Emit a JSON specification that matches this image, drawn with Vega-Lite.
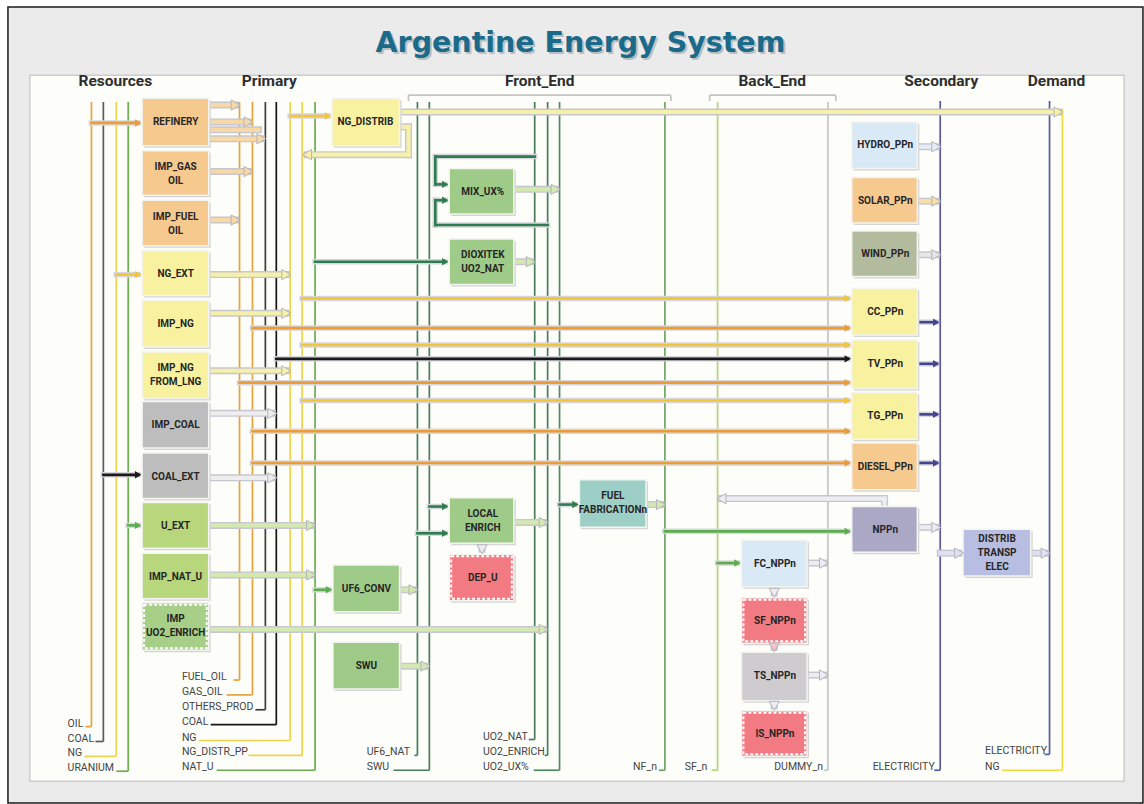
{
"$schema": "https://vega.github.io/schema/vega-lite/v6.json",
"width": 1144, "height": 804,
"autosize": {"type": "fit", "contains": "padding"},
"padding": 0,
"background": "#ffffff",
"config": {"view": {"stroke": null}},
"datasets": {
"frame": [
 {"x": 8, "y": 7, "x2": 1150, "y2": 810, "k": "outer"},
 {"x": 30, "y": 76, "x2": 1131, "y2": 788, "k": "inner"}
],
"lines": [
 {"x": 92, "y": 103, "x2": 92, "y2": 733, "k": "oil"}, {"x": 86, "y": 733, "x2": 92, "y2": 733, "k": "oil"},
 {"x": 104, "y": 103, "x2": 104, "y2": 748, "k": "coalres"}, {"x": 96, "y": 748, "x2": 104, "y2": 748, "k": "coalres"},
 {"x": 117, "y": 103, "x2": 117, "y2": 763, "k": "ng"}, {"x": 85, "y": 763, "x2": 117, "y2": 763, "k": "ng"},
 {"x": 129, "y": 103, "x2": 129, "y2": 778, "k": "uran"}, {"x": 117, "y": 778, "x2": 129, "y2": 778, "k": "uran"},
 {"x": 241, "y": 103, "x2": 241, "y2": 686, "k": "oil"}, {"x": 235, "y": 686, "x2": 241, "y2": 686, "k": "oil"},
 {"x": 254, "y": 103, "x2": 254, "y2": 701, "k": "oil"}, {"x": 228, "y": 701, "x2": 254, "y2": 701, "k": "oil"},
 {"x": 267, "y": 103, "x2": 267, "y2": 716, "k": "others"}, {"x": 257, "y": 716, "x2": 267, "y2": 716, "k": "others"},
 {"x": 278, "y": 103, "x2": 278, "y2": 731, "k": "coal"}, {"x": 212, "y": 731, "x2": 278, "y2": 731, "k": "coal"},
 {"x": 292, "y": 103, "x2": 292, "y2": 747, "k": "ng"}, {"x": 200, "y": 747, "x2": 292, "y2": 747, "k": "ng"},
 {"x": 304, "y": 103, "x2": 304, "y2": 762, "k": "ng"}, {"x": 250, "y": 762, "x2": 304, "y2": 762, "k": "ng"},
 {"x": 317, "y": 103, "x2": 317, "y2": 777, "k": "uran"}, {"x": 218, "y": 777, "x2": 317, "y2": 777, "k": "uran"},
 {"x": 420, "y": 103, "x2": 420, "y2": 762, "k": "fe"}, {"x": 417, "y": 762, "x2": 420, "y2": 762, "k": "fe"},
 {"x": 432, "y": 103, "x2": 432, "y2": 777, "k": "fe"}, {"x": 396, "y": 777, "x2": 432, "y2": 777, "k": "fe"},
 {"x": 538, "y": 103, "x2": 538, "y2": 746, "k": "fe"}, {"x": 532, "y": 746, "x2": 538, "y2": 746, "k": "fe"},
 {"x": 551, "y": 103, "x2": 551, "y2": 762, "k": "fe"}, {"x": 548, "y": 762, "x2": 551, "y2": 762, "k": "fe"},
 {"x": 563, "y": 103, "x2": 563, "y2": 777, "k": "fe2"}, {"x": 537, "y": 777, "x2": 563, "y2": 777, "k": "fe2"},
 {"x": 669, "y": 103, "x2": 669, "y2": 777, "k": "nf"}, {"x": 663, "y": 777, "x2": 669, "y2": 777, "k": "nf"},
 {"x": 722, "y": 103, "x2": 722, "y2": 777, "k": "sf"}, {"x": 716, "y": 777, "x2": 722, "y2": 777, "k": "sf"},
 {"x": 833, "y": 103, "x2": 833, "y2": 777, "k": "dummy"}, {"x": 829, "y": 777, "x2": 833, "y2": 777, "k": "dummy"},
 {"x": 946, "y": 102, "x2": 946, "y2": 777, "k": "elec"}, {"x": 940, "y": 777, "x2": 946, "y2": 777, "k": "elec"},
 {"x": 1056, "y": 102, "x2": 1056, "y2": 761, "k": "elec"}, {"x": 1051, "y": 761, "x2": 1056, "y2": 761, "k": "elec"},
 {"x": 1069, "y": 110, "x2": 1069, "y2": 777, "k": "demng"}, {"x": 1008, "y": 777, "x2": 1069, "y2": 777, "k": "demng"},
 {"x": 411, "y": 96, "x2": 675, "y2": 96, "k": "bracket"}, {"x": 411, "y": 96, "x2": 411, "y2": 102, "k": "bracket"}, {"x": 675, "y": 96, "x2": 675, "y2": 102, "k": "bracket"},
 {"x": 714, "y": 96, "x2": 841, "y2": 96, "k": "bracket"}, {"x": 714, "y": 96, "x2": 714, "y2": 102, "k": "bracket"}, {"x": 841, "y": 96, "x2": 841, "y2": 102, "k": "bracket"}
],
"pipes": [
 {"x": 210, "y": 106, "x2": 237, "y2": 106, "k": "oilpipe", "h": "r"},
 {"x": 210, "y": 123, "x2": 250, "y2": 123, "k": "oilpipe", "h": "r"},
 {"x": 210, "y": 131, "x2": 260, "y2": 131, "k": "oilpipe", "h": "none"},
 {"x": 210, "y": 140, "x2": 263, "y2": 140, "k": "oilpipe", "h": "r"},
 {"x": 210, "y": 173, "x2": 250, "y2": 173, "k": "oilpipe", "h": "r"},
 {"x": 210, "y": 222, "x2": 237, "y2": 222, "k": "oilpipe", "h": "r"},
 {"x": 210, "y": 277, "x2": 288, "y2": 277, "k": "ngpipe", "h": "r"},
 {"x": 210, "y": 316, "x2": 288, "y2": 316, "k": "ngpipe", "h": "r"},
 {"x": 210, "y": 374, "x2": 288, "y2": 374, "k": "ngpipe", "h": "r"},
 {"x": 210, "y": 417, "x2": 274, "y2": 417, "k": "coalpipe", "h": "r"},
 {"x": 210, "y": 482, "x2": 274, "y2": 482, "k": "coalpipe", "h": "r"},
 {"x": 210, "y": 530, "x2": 313, "y2": 530, "k": "upipe", "h": "r"},
 {"x": 210, "y": 580, "x2": 313, "y2": 580, "k": "upipe", "h": "r"},
 {"x": 210, "y": 635, "x2": 547, "y2": 635, "k": "upipe", "h": "r"},
 {"x": 402, "y": 595, "x2": 416, "y2": 595, "k": "upipe", "h": "r"},
 {"x": 402, "y": 672, "x2": 428, "y2": 672, "k": "upipe", "h": "r"},
 {"x": 402, "y": 113, "x2": 1065, "y2": 113, "k": "ngpipe", "h": "r"},
 {"x": 402, "y": 128, "x2": 411, "y2": 128, "k": "ngpipe", "h": "none"},
 {"x": 411, "y": 128, "x2": 411, "y2": 156, "k": "ngpipe", "h": "none"},
 {"x": 411, "y": 156, "x2": 309, "y2": 156, "k": "ngpipe", "h": "l"},
 {"x": 517, "y": 191, "x2": 559, "y2": 191, "k": "upipe", "h": "r"},
 {"x": 517, "y": 264, "x2": 534, "y2": 264, "k": "upipe", "h": "r"},
 {"x": 517, "y": 527, "x2": 547, "y2": 527, "k": "upipe", "h": "r"},
 {"x": 485, "y": 548, "x2": 485, "y2": 554, "k": "coalpipe", "h": "d"},
 {"x": 650, "y": 509, "x2": 665, "y2": 509, "k": "upipe", "h": "r"},
 {"x": 923, "y": 532, "x2": 942, "y2": 532, "k": "npppipe", "h": "r"},
 {"x": 890, "y": 511, "x2": 890, "y2": 503, "k": "npppipe", "h": "none"},
 {"x": 890, "y": 503, "x2": 726, "y2": 503, "k": "npppipe", "h": "l"},
 {"x": 923, "y": 148, "x2": 942, "y2": 148, "k": "hydropipe", "h": "r"},
 {"x": 923, "y": 203, "x2": 942, "y2": 203, "k": "solarpipe", "h": "r"},
 {"x": 923, "y": 257, "x2": 942, "y2": 257, "k": "windpipe", "h": "r"},
 {"x": 812, "y": 568, "x2": 829, "y2": 568, "k": "npppipe", "h": "r"},
 {"x": 812, "y": 681, "x2": 829, "y2": 681, "k": "npppipe", "h": "r"},
 {"x": 779, "y": 592, "x2": 779, "y2": 598, "k": "npppipe", "h": "d"},
 {"x": 779, "y": 649, "x2": 779, "y2": 653, "k": "sfpipe", "h": "d"},
 {"x": 779, "y": 707, "x2": 779, "y2": 712, "k": "npppipe", "h": "d"},
 {"x": 946, "y": 558, "x2": 965, "y2": 558, "k": "elecpipe", "h": "r"},
 {"x": 1037, "y": 558, "x2": 1052, "y2": 558, "k": "elecpipe", "h": "r"}
],
"flows": [
 {"x": 92, "y": 124, "x2": 139, "y2": 124, "k": "oilflow", "h": "r"},
 {"x": 117, "y": 277, "x2": 139, "y2": 277, "k": "ngflow", "h": "r"},
 {"x": 104, "y": 479, "x2": 139, "y2": 479, "k": "coalflow", "h": "r"},
 {"x": 129, "y": 530, "x2": 139, "y2": 530, "k": "uflow", "h": "r"},
 {"x": 292, "y": 117, "x2": 330, "y2": 117, "k": "ngflow", "h": "r"},
 {"x": 317, "y": 264, "x2": 448, "y2": 264, "k": "feflow", "h": "r"},
 {"x": 317, "y": 595, "x2": 331, "y2": 595, "k": "uflow", "h": "r"},
 {"x": 538, "y": 158, "x2": 438, "y2": 158, "k": "feflow", "h": "none"},
 {"x": 438, "y": 158, "x2": 438, "y2": 186, "k": "feflow", "h": "none"},
 {"x": 438, "y": 186, "x2": 448, "y2": 186, "k": "feflow", "h": "r"},
 {"x": 551, "y": 227, "x2": 438, "y2": 227, "k": "feflow", "h": "none"},
 {"x": 438, "y": 227, "x2": 438, "y2": 202, "k": "feflow", "h": "none"},
 {"x": 438, "y": 202, "x2": 448, "y2": 202, "k": "feflow", "h": "r"},
 {"x": 432, "y": 511, "x2": 448, "y2": 511, "k": "feflow", "h": "r"},
 {"x": 420, "y": 538, "x2": 448, "y2": 538, "k": "feflow", "h": "r"},
 {"x": 563, "y": 509, "x2": 579, "y2": 509, "k": "feflow", "h": "r"},
 {"x": 669, "y": 536, "x2": 853, "y2": 536, "k": "uflow", "h": "r"},
 {"x": 722, "y": 568, "x2": 742, "y2": 568, "k": "uflow", "h": "r"},
 {"x": 304, "y": 301, "x2": 853, "y2": 301, "k": "ngflow", "h": "r"},
 {"x": 254, "y": 331, "x2": 853, "y2": 331, "k": "oilflow", "h": "r"},
 {"x": 304, "y": 348, "x2": 853, "y2": 348, "k": "ngflow", "h": "r"},
 {"x": 278, "y": 362, "x2": 853, "y2": 362, "k": "coalflow", "h": "r"},
 {"x": 241, "y": 386, "x2": 853, "y2": 386, "k": "oilflow", "h": "r"},
 {"x": 304, "y": 404, "x2": 853, "y2": 404, "k": "ngflow", "h": "r"},
 {"x": 254, "y": 435, "x2": 853, "y2": 435, "k": "oilflow", "h": "r"},
 {"x": 254, "y": 467, "x2": 853, "y2": 467, "k": "oilflow", "h": "r"},
 {"x": 923, "y": 325, "x2": 942, "y2": 325, "k": "elecflow", "h": "r"},
 {"x": 923, "y": 367, "x2": 942, "y2": 367, "k": "elecflow", "h": "r"},
 {"x": 923, "y": 418, "x2": 942, "y2": 418, "k": "elecflow", "h": "r"},
 {"x": 923, "y": 467, "x2": 942, "y2": 467, "k": "elecflow", "h": "r"}
],
"boxes": [
 {"x": 143, "x2": 210, "y": 99, "y2": 147, "k": "oilbox", "t": "REFINERY"},
 {"x": 143, "x2": 210, "y": 152, "y2": 197, "k": "oilbox", "t": "IMP_GAS\nOIL"},
 {"x": 143, "x2": 210, "y": 202, "y2": 248, "k": "oilbox", "t": "IMP_FUEL\nOIL"},
 {"x": 143, "x2": 210, "y": 253, "y2": 298, "k": "ngbox", "t": "NG_EXT"},
 {"x": 143, "x2": 210, "y": 303, "y2": 350, "k": "ngbox", "t": "IMP_NG"},
 {"x": 143, "x2": 210, "y": 355, "y2": 402, "k": "ngbox", "t": "IMP_NG\nFROM_LNG"},
 {"x": 143, "x2": 210, "y": 405, "y2": 452, "k": "coalbox", "t": "IMP_COAL"},
 {"x": 143, "x2": 210, "y": 457, "y2": 503, "k": "coalbox", "t": "COAL_EXT"},
 {"x": 143, "x2": 210, "y": 507, "y2": 553, "k": "ubox", "t": "U_EXT"},
 {"x": 143, "x2": 210, "y": 558, "y2": 604, "k": "ubox", "t": "IMP_NAT_U"},
 {"x": 143, "x2": 210, "y": 608, "y2": 656, "k": "uimp", "t": "IMP\nUO2_ENRICH"},
 {"x": 334, "x2": 402, "y": 99, "y2": 147, "k": "ngbox", "t": "NG_DISTRIB"},
 {"x": 335, "x2": 402, "y": 570, "y2": 617, "k": "febox", "t": "UF6_CONV"},
 {"x": 335, "x2": 402, "y": 648, "y2": 695, "k": "febox", "t": "SWU"},
 {"x": 452, "x2": 517, "y": 170, "y2": 216, "k": "febox", "t": "MIX_UX%"},
 {"x": 452, "x2": 517, "y": 241, "y2": 287, "k": "febox", "t": "DIOXITEK\nUO2_NAT"},
 {"x": 452, "x2": 517, "y": 502, "y2": 548, "k": "febox", "t": "LOCAL\nENRICH"},
 {"x": 452, "x2": 517, "y": 559, "y2": 606, "k": "depbox", "t": "DEP_U"},
 {"x": 583, "x2": 650, "y": 484, "y2": 532, "k": "fabbox", "t": "FUEL\nFABRICATIONn"},
 {"x": 746, "x2": 812, "y": 545, "y2": 592, "k": "hydrobox", "t": "FC_NPPn"},
 {"x": 746, "x2": 812, "y": 603, "y2": 649, "k": "depbox", "t": "SF_NPPn"},
 {"x": 746, "x2": 812, "y": 658, "y2": 707, "k": "tsbox", "t": "TS_NPPn"},
 {"x": 746, "x2": 812, "y": 717, "y2": 763, "k": "depbox", "t": "IS_NPPn"},
 {"x": 857, "x2": 923, "y": 123, "y2": 170, "k": "hydrobox", "t": "HYDRO_PPn"},
 {"x": 857, "x2": 923, "y": 179, "y2": 225, "k": "oilbox", "t": "SOLAR_PPn"},
 {"x": 857, "x2": 923, "y": 233, "y2": 279, "k": "windbox", "t": "WIND_PPn"},
 {"x": 857, "x2": 923, "y": 291, "y2": 338, "k": "ngbox", "t": "CC_PPn"},
 {"x": 857, "x2": 923, "y": 343, "y2": 392, "k": "ngbox", "t": "TV_PPn"},
 {"x": 857, "x2": 923, "y": 396, "y2": 443, "k": "ngbox", "t": "TG_PPn"},
 {"x": 857, "x2": 923, "y": 447, "y2": 494, "k": "oilbox", "t": "DIESEL_PPn"},
 {"x": 857, "x2": 923, "y": 511, "y2": 557, "k": "nppbox", "t": "NPPn"},
 {"x": 969, "x2": 1037, "y": 534, "y2": 581, "k": "elecbox", "t": "DISTRIB\nTRANSP\nELEC"}
],
"labels": [
 {"x": 68, "y": 730, "t": "OIL"}, {"x": 68, "y": 745, "t": "COAL"}, {"x": 68, "y": 760, "t": "NG"}, {"x": 68, "y": 775, "t": "URANIUM"},
 {"x": 183, "y": 683, "t": "FUEL_OIL"}, {"x": 183, "y": 698, "t": "GAS_OIL"}, {"x": 183, "y": 713, "t": "OTHERS_PROD"}, {"x": 183, "y": 728, "t": "COAL"},
 {"x": 183, "y": 744, "t": "NG"}, {"x": 183, "y": 759, "t": "NG_DISTR_PP"}, {"x": 183, "y": 774, "t": "NAT_U"},
 {"x": 369, "y": 759, "t": "UF6_NAT"}, {"x": 369, "y": 774, "t": "SWU"},
 {"x": 486, "y": 743, "t": "UO2_NAT"}, {"x": 486, "y": 759, "t": "UO2_ENRICH"}, {"x": 486, "y": 774, "t": "UO2_UX%"},
 {"x": 637, "y": 774, "t": "NF_n"}, {"x": 689, "y": 774, "t": "SF_n"}, {"x": 779, "y": 774, "t": "DUMMY_n"},
 {"x": 878, "y": 774, "t": "ELECTRICITY"}, {"x": 991, "y": 758, "t": "ELECTRICITY"}, {"x": 991, "y": 774, "t": "NG"}
],
"headers": [
 {"x": 116, "y": 82, "t": "Resources", "k": "col"},
 {"x": 271, "y": 82, "t": "Primary", "k": "col"},
 {"x": 543, "y": 82, "t": "Front_End", "k": "col"},
 {"x": 777, "y": 82, "t": "Back_End", "k": "col"},
 {"x": 947, "y": 82, "t": "Secondary", "k": "col"},
 {"x": 1063, "y": 82, "t": "Demand", "k": "col"},
 {"x": 584, "y": 43, "t": "Argentine Energy System", "k": "title"}
]
},
"encoding": {
 "x": {"field": "x", "type": "quantitative", "scale": {"domain": [0, 1144], "nice": false, "zero": false}, "axis": null},
 "y": {"field": "y", "type": "quantitative", "scale": {"domain": [0, 804], "reverse": true, "nice": false, "zero": false}, "axis": null}
},
"layer": [
 {"data": {"name": "frame"}, "transform": [{"filter": "datum.k == 'outer'"}],
  "mark": {"type": "rect", "fill": "#ebebeb", "stroke": "#1a1a1a", "strokeWidth": 1.5},
  "encoding": {"x2": {"field": "x2"}, "y2": {"field": "y2"}}},
 {"data": {"name": "frame"}, "transform": [{"filter": "datum.k == 'inner'"}],
  "mark": {"type": "rect", "fill": "#fdfdfa", "stroke": "#cdcdcd", "strokeWidth": 1.5},
  "encoding": {"x2": {"field": "x2"}, "y2": {"field": "y2"}}},
 {"data": {"name": "lines"},
  "mark": {"type": "rule", "strokeWidth": 1.7},
  "encoding": {"x2": {"field": "x2"}, "y2": {"field": "y2"},
   "color": {"field": "k", "type": "nominal", "legend": null, "scale": {"domain": ["oil","coalres","ng","uran","others","coal","fe","fe2","nf","sf","dummy","elec","demng","bracket","oilpipe","ngpipe","coalpipe","upipe","hydropipe","solarpipe","windpipe","npppipe","sfpipe","elecpipe","oilflow","ngflow","coalflow","uflow","feflow","elecflow","oilbox","ngbox","coalbox","ubox","uimp","febox","depbox","fabbox","hydrobox","windbox","nppbox","tsbox","elecbox"], "range": ["#e8a23e","#5b5b5b","#efd34c","#6aae4f","#3d3d3d","#161616","#4a7d5a","#4f8a5c","#6fa563","#b8d17f","#c6c6c6","#5a5a9e","#f0dc3c","#c4c4c4","#f7d8a6","#f6f0a8","#eeeeee","#d3e9b0","#e3eef9","#f7dfa6","#e6e6e6","#ececf2","#f5c5c8","#dde1f3","#eb9c36","#f2c53a","#1a1a1a","#5cae4c","#2e7d4e","#45448e","#f6c98e","#f8f2a0","#bdbdbd","#b8d77d","#a7cf88","#9fcb89","#f27b83","#9ecfc7","#dae9f6","#b3bb9f","#aaa8c5","#cecccf","#b8bee1"]}}}},
 {"data": {"name": "pipes"},
  "mark": {"type": "rule", "strokeWidth": 7, "color": "#c6c6ce", "strokeCap": "square"},
  "encoding": {"x2": {"field": "x2"}, "y2": {"field": "y2"}}},
 {"data": {"name": "pipes"},
  "mark": {"type": "rule", "strokeWidth": 4.2, "strokeCap": "square"},
  "encoding": {"x2": {"field": "x2"}, "y2": {"field": "y2"},
   "color": {"field": "k", "type": "nominal", "legend": null, "scale": {"domain": ["oil","coalres","ng","uran","others","coal","fe","fe2","nf","sf","dummy","elec","demng","bracket","oilpipe","ngpipe","coalpipe","upipe","hydropipe","solarpipe","windpipe","npppipe","sfpipe","elecpipe","oilflow","ngflow","coalflow","uflow","feflow","elecflow","oilbox","ngbox","coalbox","ubox","uimp","febox","depbox","fabbox","hydrobox","windbox","nppbox","tsbox","elecbox"], "range": ["#e8a23e","#5b5b5b","#efd34c","#6aae4f","#3d3d3d","#161616","#4a7d5a","#4f8a5c","#6fa563","#b8d17f","#c6c6c6","#5a5a9e","#f0dc3c","#c4c4c4","#f7d8a6","#f6f0a8","#eeeeee","#d3e9b0","#e3eef9","#f7dfa6","#e6e6e6","#ececf2","#f5c5c8","#dde1f3","#eb9c36","#f2c53a","#1a1a1a","#5cae4c","#2e7d4e","#45448e","#f6c98e","#f8f2a0","#bdbdbd","#b8d77d","#a7cf88","#9fcb89","#f27b83","#9ecfc7","#dae9f6","#b3bb9f","#aaa8c5","#cecccf","#b8bee1"]}}}},
 {"data": {"name": "flows"},
  "mark": {"type": "rule", "strokeWidth": 5.5, "color": "#d6d6dc", "strokeCap": "square"},
  "encoding": {"x2": {"field": "x2"}, "y2": {"field": "y2"}}},
 {"data": {"name": "flows"},
  "mark": {"type": "rule", "strokeWidth": 2.6, "strokeCap": "square"},
  "encoding": {"x2": {"field": "x2"}, "y2": {"field": "y2"},
   "color": {"field": "k", "type": "nominal", "legend": null, "scale": {"domain": ["oil","coalres","ng","uran","others","coal","fe","fe2","nf","sf","dummy","elec","demng","bracket","oilpipe","ngpipe","coalpipe","upipe","hydropipe","solarpipe","windpipe","npppipe","sfpipe","elecpipe","oilflow","ngflow","coalflow","uflow","feflow","elecflow","oilbox","ngbox","coalbox","ubox","uimp","febox","depbox","fabbox","hydrobox","windbox","nppbox","tsbox","elecbox"], "range": ["#e8a23e","#5b5b5b","#efd34c","#6aae4f","#3d3d3d","#161616","#4a7d5a","#4f8a5c","#6fa563","#b8d17f","#c6c6c6","#5a5a9e","#f0dc3c","#c4c4c4","#f7d8a6","#f6f0a8","#eeeeee","#d3e9b0","#e3eef9","#f7dfa6","#e6e6e6","#ececf2","#f5c5c8","#dde1f3","#eb9c36","#f2c53a","#1a1a1a","#5cae4c","#2e7d4e","#45448e","#f6c98e","#f8f2a0","#bdbdbd","#b8d77d","#a7cf88","#9fcb89","#f27b83","#9ecfc7","#dae9f6","#b3bb9f","#aaa8c5","#cecccf","#b8bee1"]}}}},
 {"data": {"name": "boxes"},
  "mark": {"type": "rect", "fill": "#d4d4d4", "xOffset": 2, "yOffset": 2, "x2Offset": 2, "y2Offset": 2},
  "encoding": {"x2": {"field": "x2"}, "y2": {"field": "y2"}}},
 {"data": {"name": "boxes"},
  "mark": {"type": "rect", "stroke": "#f4f4f0", "strokeWidth": 1.5},
  "encoding": {"x2": {"field": "x2"}, "y2": {"field": "y2"},
   "color": {"field": "k", "type": "nominal", "legend": null, "scale": {"domain": ["oil","coalres","ng","uran","others","coal","fe","fe2","nf","sf","dummy","elec","demng","bracket","oilpipe","ngpipe","coalpipe","upipe","hydropipe","solarpipe","windpipe","npppipe","sfpipe","elecpipe","oilflow","ngflow","coalflow","uflow","feflow","elecflow","oilbox","ngbox","coalbox","ubox","uimp","febox","depbox","fabbox","hydrobox","windbox","nppbox","tsbox","elecbox"], "range": ["#e8a23e","#5b5b5b","#efd34c","#6aae4f","#3d3d3d","#161616","#4a7d5a","#4f8a5c","#6fa563","#b8d17f","#c6c6c6","#5a5a9e","#f0dc3c","#c4c4c4","#f7d8a6","#f6f0a8","#eeeeee","#d3e9b0","#e3eef9","#f7dfa6","#e6e6e6","#ececf2","#f5c5c8","#dde1f3","#eb9c36","#f2c53a","#1a1a1a","#5cae4c","#2e7d4e","#45448e","#f6c98e","#f8f2a0","#bdbdbd","#b8d77d","#a7cf88","#9fcb89","#f27b83","#9ecfc7","#dae9f6","#b3bb9f","#aaa8c5","#cecccf","#b8bee1"]}}}},
 {"data": {"name": "boxes"}, "transform": [{"filter": "datum.k == 'uimp' || datum.k == 'depbox'"}],
  "mark": {"type": "rect", "filled": false, "stroke": "#ffffff", "strokeWidth": 2, "strokeDash": [3, 2], "xOffset": 2, "x2Offset": -2, "yOffset": 2, "y2Offset": -2},
  "encoding": {"x2": {"field": "x2"}, "y2": {"field": "y2"}}},
 {"data": {"name": "pipes"}, "transform": [{"filter": "datum.h != 'none'"}],
  "mark": {"type": "point", "filled": true, "size": 105, "stroke": "#b4b4bc", "strokeWidth": 1, "opacity": 1},
  "encoding": {"x": {"field": "x2", "type": "quantitative"}, "y": {"field": "y2", "type": "quantitative"},
   "shape": {"field": "h", "type": "nominal", "legend": null, "scale": {"domain": ["r", "l", "d"], "range": ["triangle-right", "triangle-left", "triangle-down"]}},
   "color": {"field": "k", "type": "nominal", "legend": null, "scale": {"domain": ["oil","coalres","ng","uran","others","coal","fe","fe2","nf","sf","dummy","elec","demng","bracket","oilpipe","ngpipe","coalpipe","upipe","hydropipe","solarpipe","windpipe","npppipe","sfpipe","elecpipe","oilflow","ngflow","coalflow","uflow","feflow","elecflow","oilbox","ngbox","coalbox","ubox","uimp","febox","depbox","fabbox","hydrobox","windbox","nppbox","tsbox","elecbox"], "range": ["#e8a23e","#5b5b5b","#efd34c","#6aae4f","#3d3d3d","#161616","#4a7d5a","#4f8a5c","#6fa563","#b8d17f","#c6c6c6","#5a5a9e","#f0dc3c","#c4c4c4","#f7d8a6","#f6f0a8","#eeeeee","#d3e9b0","#e3eef9","#f7dfa6","#e6e6e6","#ececf2","#f5c5c8","#dde1f3","#eb9c36","#f2c53a","#1a1a1a","#5cae4c","#2e7d4e","#45448e","#f6c98e","#f8f2a0","#bdbdbd","#b8d77d","#a7cf88","#9fcb89","#f27b83","#9ecfc7","#dae9f6","#b3bb9f","#aaa8c5","#cecccf","#b8bee1"]}}}},
 {"data": {"name": "flows"}, "transform": [{"filter": "datum.h != 'none'"}],
  "mark": {"type": "point", "filled": true, "size": 55, "opacity": 1},
  "encoding": {"x": {"field": "x2", "type": "quantitative"}, "y": {"field": "y2", "type": "quantitative"},
   "shape": {"field": "h", "type": "nominal", "legend": null, "scale": {"domain": ["r", "l", "d"], "range": ["triangle-right", "triangle-left", "triangle-down"]}},
   "color": {"field": "k", "type": "nominal", "legend": null, "scale": {"domain": ["oil","coalres","ng","uran","others","coal","fe","fe2","nf","sf","dummy","elec","demng","bracket","oilpipe","ngpipe","coalpipe","upipe","hydropipe","solarpipe","windpipe","npppipe","sfpipe","elecpipe","oilflow","ngflow","coalflow","uflow","feflow","elecflow","oilbox","ngbox","coalbox","ubox","uimp","febox","depbox","fabbox","hydrobox","windbox","nppbox","tsbox","elecbox"], "range": ["#e8a23e","#5b5b5b","#efd34c","#6aae4f","#3d3d3d","#161616","#4a7d5a","#4f8a5c","#6fa563","#b8d17f","#c6c6c6","#5a5a9e","#f0dc3c","#c4c4c4","#f7d8a6","#f6f0a8","#eeeeee","#d3e9b0","#e3eef9","#f7dfa6","#e6e6e6","#ececf2","#f5c5c8","#dde1f3","#eb9c36","#f2c53a","#1a1a1a","#5cae4c","#2e7d4e","#45448e","#f6c98e","#f8f2a0","#bdbdbd","#b8d77d","#a7cf88","#9fcb89","#f27b83","#9ecfc7","#dae9f6","#b3bb9f","#aaa8c5","#cecccf","#b8bee1"]}}}},
 {"data": {"name": "boxes"}, "transform": [{"filter": "length(split(datum.t, '\\n')) == 1"}],
  "mark": {"type": "text", "font": "Roboto", "fontWeight": "bold", "fontSize": 10, "color": "#262626", "align": "center", "baseline": "middle", "lineBreak": "\n", "lineHeight": 14, "dx": 33.5, "dy": 23.5},
  "encoding": {"text": {"field": "t"}}},
 {"data": {"name": "boxes"}, "transform": [{"filter": "length(split(datum.t, '\\n')) == 2"}],
  "mark": {"type": "text", "font": "Roboto", "fontWeight": "bold", "fontSize": 10, "color": "#262626", "align": "center", "baseline": "middle", "lineBreak": "\n", "lineHeight": 14, "dx": 33.5, "dy": 16.5},
  "encoding": {"text": {"field": "t"}}},
 {"data": {"name": "boxes"}, "transform": [{"filter": "length(split(datum.t, '\\n')) == 3"}],
  "mark": {"type": "text", "font": "Roboto", "fontWeight": "bold", "fontSize": 10, "color": "#262626", "align": "center", "baseline": "middle", "lineBreak": "\n", "lineHeight": 14, "dx": 34, "dy": 9.5},
  "encoding": {"text": {"field": "t"}}},
 {"data": {"name": "labels"},
  "mark": {"type": "text", "font": "Roboto", "fontSize": 10.5, "color": "#444444", "align": "left", "baseline": "middle"},
  "encoding": {"text": {"field": "t"}}},
 {"data": {"name": "headers"}, "transform": [{"filter": "datum.k == 'col'"}],
  "mark": {"type": "text", "font": "Roboto", "fontWeight": "bold", "fontSize": 15.5, "color": "#2e2e2e", "align": "center", "baseline": "middle"},
  "encoding": {"text": {"field": "t"}}},
 {"data": {"name": "headers"}, "transform": [{"filter": "datum.k == 'title'"}],
  "mark": {"type": "text", "font": "DejaVu Sans", "fontWeight": "bold", "fontSize": 28.5, "color": "#9aa4a8", "opacity": 0.6, "align": "center", "baseline": "middle", "dx": 2, "dy": 2},
  "encoding": {"text": {"field": "t"}}},
 {"data": {"name": "headers"}, "transform": [{"filter": "datum.k == 'title'"}],
  "mark": {"type": "text", "font": "DejaVu Sans", "fontWeight": "bold", "fontSize": 28.5, "color": "#1b6a8a", "align": "center", "baseline": "middle"},
  "encoding": {"text": {"field": "t"}}}
]
}
